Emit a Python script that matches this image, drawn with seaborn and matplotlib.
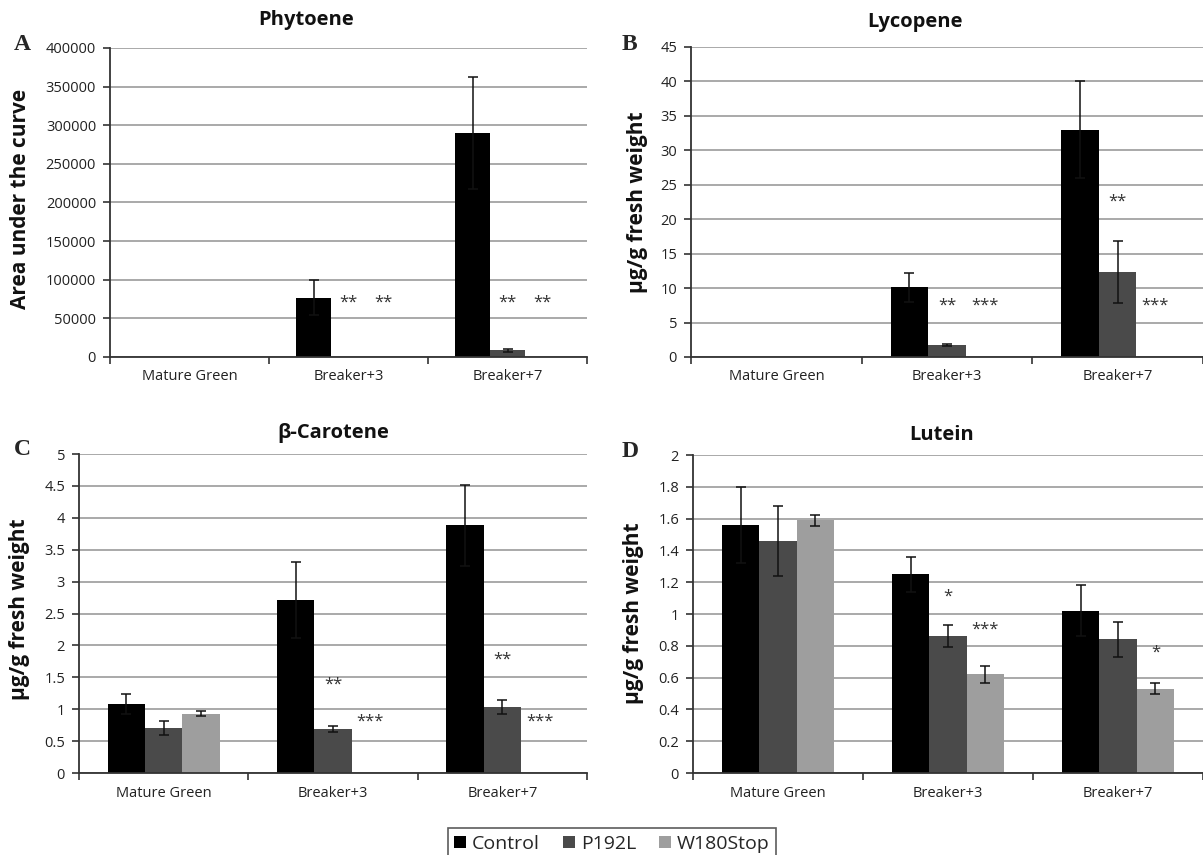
import numpy as np
import pandas as pd
import matplotlib
matplotlib.use('Agg')
import matplotlib.pyplot as plt
import matplotlib.ticker as mticker
from matplotlib.patches import Patch
import seaborn as sns

# categories / groups
stages = ['Mature Green', 'Breaker+3', 'Breaker+7']
lines = ['Control', 'P192L', 'W180Stop']
colors = ['#000000', '#4a4a4a', '#9e9e9e']

# Phytoene (area under the curve)
phy_control = [0, 77000, 290000]
phy_p192l = [0, 0, 9000]
phy_w180 = [0, 0, 0]
phy_control_err = [0, 23000, 72000]
phy_p192l_err = [0, 0, 2000]
phy_w180_err = [0, 0, 0]

# Lycopene (ug/g fresh weight)
lyc_control = [0, 10.1, 33.0]
lyc_p192l = [0, 1.8, 12.4]
lyc_w180 = [0, 0, 0]
lyc_control_err = [0, 2.1, 7.0]
lyc_p192l_err = [0, 0.15, 4.5]
lyc_w180_err = [0, 0, 0]

# beta-Carotene
car_control = [1.08, 2.71, 3.88]
car_p192l = [0.71, 0.69, 1.04]
car_w180 = [0.93, 0, 0]
car_control_err = [0.16, 0.60, 0.63]
car_p192l_err = [0.11, 0.05, 0.11]
car_w180_err = [0.04, 0, 0]

# Lutein
lut_control = [1.56, 1.25, 1.02]
lut_p192l = [1.46, 0.86, 0.84]
lut_w180 = [1.59, 0.62, 0.53]
lut_control_err = [0.24, 0.11, 0.16]
lut_p192l_err = [0.22, 0.07, 0.11]
lut_w180_err = [0.035, 0.055, 0.035]

# significance marks: (stage index, line index, y, text)
phy_stars = [(1, 1, 70000, '**'), (1, 2, 70000, '**'), (2, 1, 70000, '**'), (2, 2, 70000, '**')]
lyc_stars = [(1, 1, 7.4, '**'), (1, 2, 7.4, '***'), (2, 1, 22.5, '**'), (2, 2, 7.4, '***')]
car_stars = [(1, 1, 1.38, '**'), (1, 2, 0.80, '***'), (2, 1, 1.77, '**'), (2, 2, 0.81, '***')]
lut_stars = [(1, 1, 1.11, '*'), (1, 2, 0.90, '***'), (2, 2, 0.76, '*')]

GROUP_W = 0.66

sns.set_theme(style='white')
plt.rcParams['font.family'] = ['Open Sans', 'DejaVu Sans']

W, H = 1203, 855
fig = plt.figure(figsize=(W / 100, H / 100), dpi=100)


def box(x0, x1, ytop, ybot):
    return [x0 / W, 1 - ybot / H, (x1 - x0) / W, (ybot - ytop) / H]


def draw(ax, means, errs, ymax, step, stars):
    df = pd.DataFrame({
        'stage': stages * 3,
        'line': np.repeat(lines, 3),
        'value': np.concatenate(means),
    })
    sns.barplot(data=df, x='stage', y='value', hue='line', order=stages,
                hue_order=lines, palette=colors, saturation=1, width=GROUP_W,
                errorbar=None, legend=False, linewidth=0, ax=ax)
    # dodge positions (same as seaborn: group split evenly between hues)
    bw = GROUP_W / len(lines)
    cx = lambda si, li: si + (li - (len(lines) - 1) / 2) * bw
    for li in range(len(lines)):
        xs = np.array([cx(si, li) for si in range(len(stages))])
        hs = np.array(means[li], dtype=float)
        es = np.array(errs[li], dtype=float)
        m = es > 0
        if m.any():
            ax.errorbar(xs[m], hs[m], yerr=es[m], fmt='none', ecolor='#111111',
                        elinewidth=1.1, capsize=3.5, capthick=1.1, zorder=5)
    for si, li, y, txt in stars:
        ax.text(cx(si, li), y, txt, ha='center', va='center',
                fontsize=12, color='#333333')
    ax.set_ylim(0, ymax)
    ax.set_xlim(-0.5, 2.5)
    ax.set_yticks(np.arange(0, ymax + step / 2, step))
    ax.yaxis.set_major_formatter(mticker.FuncFormatter(lambda v, p: '%g' % round(v, 6)))
    ax.yaxis.grid(True, color='#a3a3a3', lw=1.3)
    ax.set_axisbelow(True)
    for s in ['top', 'right']:
        ax.spines[s].set_visible(False)
    for s in ['left', 'bottom']:
        ax.spines[s].set_color('#333333')
        ax.spines[s].set_linewidth(1.3)
    ax.set_xlabel('')
    ax.set_ylabel('')
    ax.set_xticks([0, 1, 2])
    ax.set_xticks([-0.5, 0.5, 1.5, 2.5], minor=True)
    ax.tick_params(axis='x', which='major', length=0, pad=9, labelsize=10.5,
                   labelcolor='#222222')
    ax.tick_params(axis='x', which='minor', bottom=True, length=5, width=1.2,
                   direction='out', color='#333333')
    ax.tick_params(axis='y', left=True, length=5, width=1.2, direction='out',
                   color='#333333', pad=5, labelsize=10.5, labelcolor='#222222')


axA = fig.add_axes(box(110, 587, 48, 357))
draw(axA, [phy_control, phy_p192l, phy_w180],
     [phy_control_err, phy_p192l_err, phy_w180_err], 400000, 50000, phy_stars)
axB = fig.add_axes(box(691, 1203, 47, 357))
draw(axB, [lyc_control, lyc_p192l, lyc_w180],
     [lyc_control_err, lyc_p192l_err, lyc_w180_err], 45, 5, lyc_stars)
axC = fig.add_axes(box(79, 587, 454, 773))
draw(axC, [car_control, car_p192l, car_w180],
     [car_control_err, car_p192l_err, car_w180_err], 5, 0.5, car_stars)
axD = fig.add_axes(box(693, 1203, 455, 773))
draw(axD, [lut_control, lut_p192l, lut_w180],
     [lut_control_err, lut_p192l_err, lut_w180_err], 2, 0.2, lut_stars)

# titles, panel letters, y labels
titles = [('Phytoene', 306, 20), ('Lycopene', 915, 22),
          ('β-Carotene', 333, 433), ('Lutein', 942, 435)]
for t, x, y in titles:
    fig.text(x / W, 1 - y / H, t, ha='center', va='center', fontsize=14.5,
             fontweight='bold', color='#111111')

letters = [('A', 22, 45), ('B', 629, 45), ('C', 22, 449), ('D', 630, 451)]
for t, x, y in letters:
    fig.text(x / W, 1 - y / H, t, ha='center', va='center', fontsize=17,
             fontweight='bold', family=['Liberation Serif', 'DejaVu Serif'])

ylabels = [('Area under the curve', 21, 199), ('µg/g fresh weight', 637, 202),
           ('µg/g fresh weight', 20, 609), ('µg/g fresh weight', 633, 613)]
for t, x, y in ylabels:
    fig.text(x / W, 1 - y / H, t, ha='center', va='center', rotation=90,
             fontsize=15, fontweight='bold', color='#111111')

handles = [Patch(facecolor=c, edgecolor='none') for c in colors]
leg = fig.legend(handles, lines, loc='upper center',
                 bbox_to_anchor=(612 / W, 1 - 818 / H), ncol=3, frameon=True,
                 fancybox=False, edgecolor='#333333', fontsize=14,
                 handlelength=0.6, handleheight=0.6, handletextpad=0.3,
                 columnspacing=1.2, borderpad=0.35)
leg.get_frame().set_linewidth(1.2)

fig.savefig('out.png', dpi=100)
